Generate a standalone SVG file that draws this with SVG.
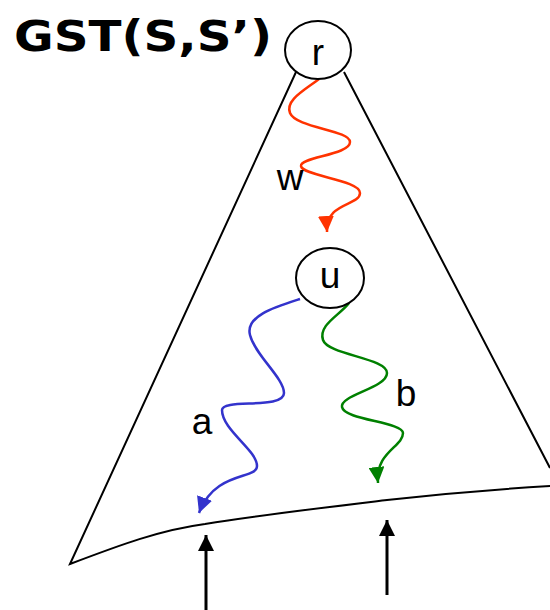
<svg xmlns="http://www.w3.org/2000/svg" width="550" height="610" viewBox="0 0 550 610">
<defs>
<style>
.edge{fill:none;stroke:#000;stroke-width:2}
.node{fill:#fff;stroke:#000;stroke-width:2}
.lbl{font-family:"Liberation Sans",Arial,sans-serif;font-size:37px;fill:#000;text-anchor:middle}
.wave{fill:none;stroke-width:2.5}
</style>
<marker id="ar" viewBox="0 0 10 10" refX="10" refY="5" markerUnits="userSpaceOnUse" markerWidth="16" markerHeight="16" orient="auto"><path d="M0,0 L10,5 L0,10 z" fill="#ff3300"/></marker>
<marker id="ab" viewBox="0 0 10 10" refX="10" refY="5" markerUnits="userSpaceOnUse" markerWidth="16" markerHeight="16" orient="auto"><path d="M0,0 L10,5 L0,10 z" fill="#3333cc"/></marker>
<marker id="ag" viewBox="0 0 10 10" refX="10" refY="5" markerUnits="userSpaceOnUse" markerWidth="16" markerHeight="16" orient="auto"><path d="M0,0 L10,5 L0,10 z" fill="#008000"/></marker>
<marker id="ak" viewBox="0 0 10 10" refX="10" refY="5" markerUnits="userSpaceOnUse" markerWidth="16" markerHeight="16" orient="auto"><path d="M0,0 L10,5 L0,10 z" fill="#000"/></marker>
</defs>
<rect width="550" height="610" fill="#fff"/>
<g id="tree">
<path class="edge" d="M296,72 L70,564 C120,545 160,530 205,524 C260,515 320,508 387,500 C450,493 500,489 552,486 M344,72 L550,468"/>
</g>
<text x="143" y="51" font-family="'DejaVu Sans',Verdana,sans-serif" font-weight="bold" font-size="43" text-anchor="middle" textLength="258" lengthAdjust="spacingAndGlyphs">GST(S,S’)</text>
<g id="connectors">
<path class="wave" stroke="#ff3300" marker-end="url(#ar)" d="M319,79 C305,90 285,100 290,113 C296,128 350,130 350,142 C350,155 300,157 301,166 C302,176 360,180 360,193 C360,206 325,202 327,232"/>
<path class="wave" stroke="#3333cc" marker-end="url(#ab)" d="M300,299 C275,307 245,316 250,335 C255,355 284,378 284,393 C284,410 222,398 222,410 C222,430 257,450 257,466 C257,480 215,470 199,513"/>
<path class="wave" stroke="#008000" marker-end="url(#ag)" d="M349,303 C340,315 318,325 323,340 C328,355 387,358 387,373 C387,388 340,395 342,407 C344,420 403,422 403,433 C403,447 375,452 378,483"/>
<path fill="none" stroke="#000" stroke-width="3" marker-end="url(#ak)" d="M206,610 L206,535"/>
<path fill="none" stroke="#000" stroke-width="3" marker-end="url(#ak)" d="M387,595 L387,520"/>
</g>
<g id="r">
<ellipse class="node" cx="318" cy="50" rx="33" ry="29"/>
<text class="lbl" x="318" y="65">r</text>
</g>
<g id="u">
<ellipse class="node" cx="330" cy="278" rx="34" ry="30"/>
<text class="lbl" x="330" y="288">u</text>
</g>
<text class="lbl" x="290" y="190">w</text>
<text class="lbl" x="202" y="434">a</text>
<text class="lbl" x="406" y="406">b</text>
</svg>
